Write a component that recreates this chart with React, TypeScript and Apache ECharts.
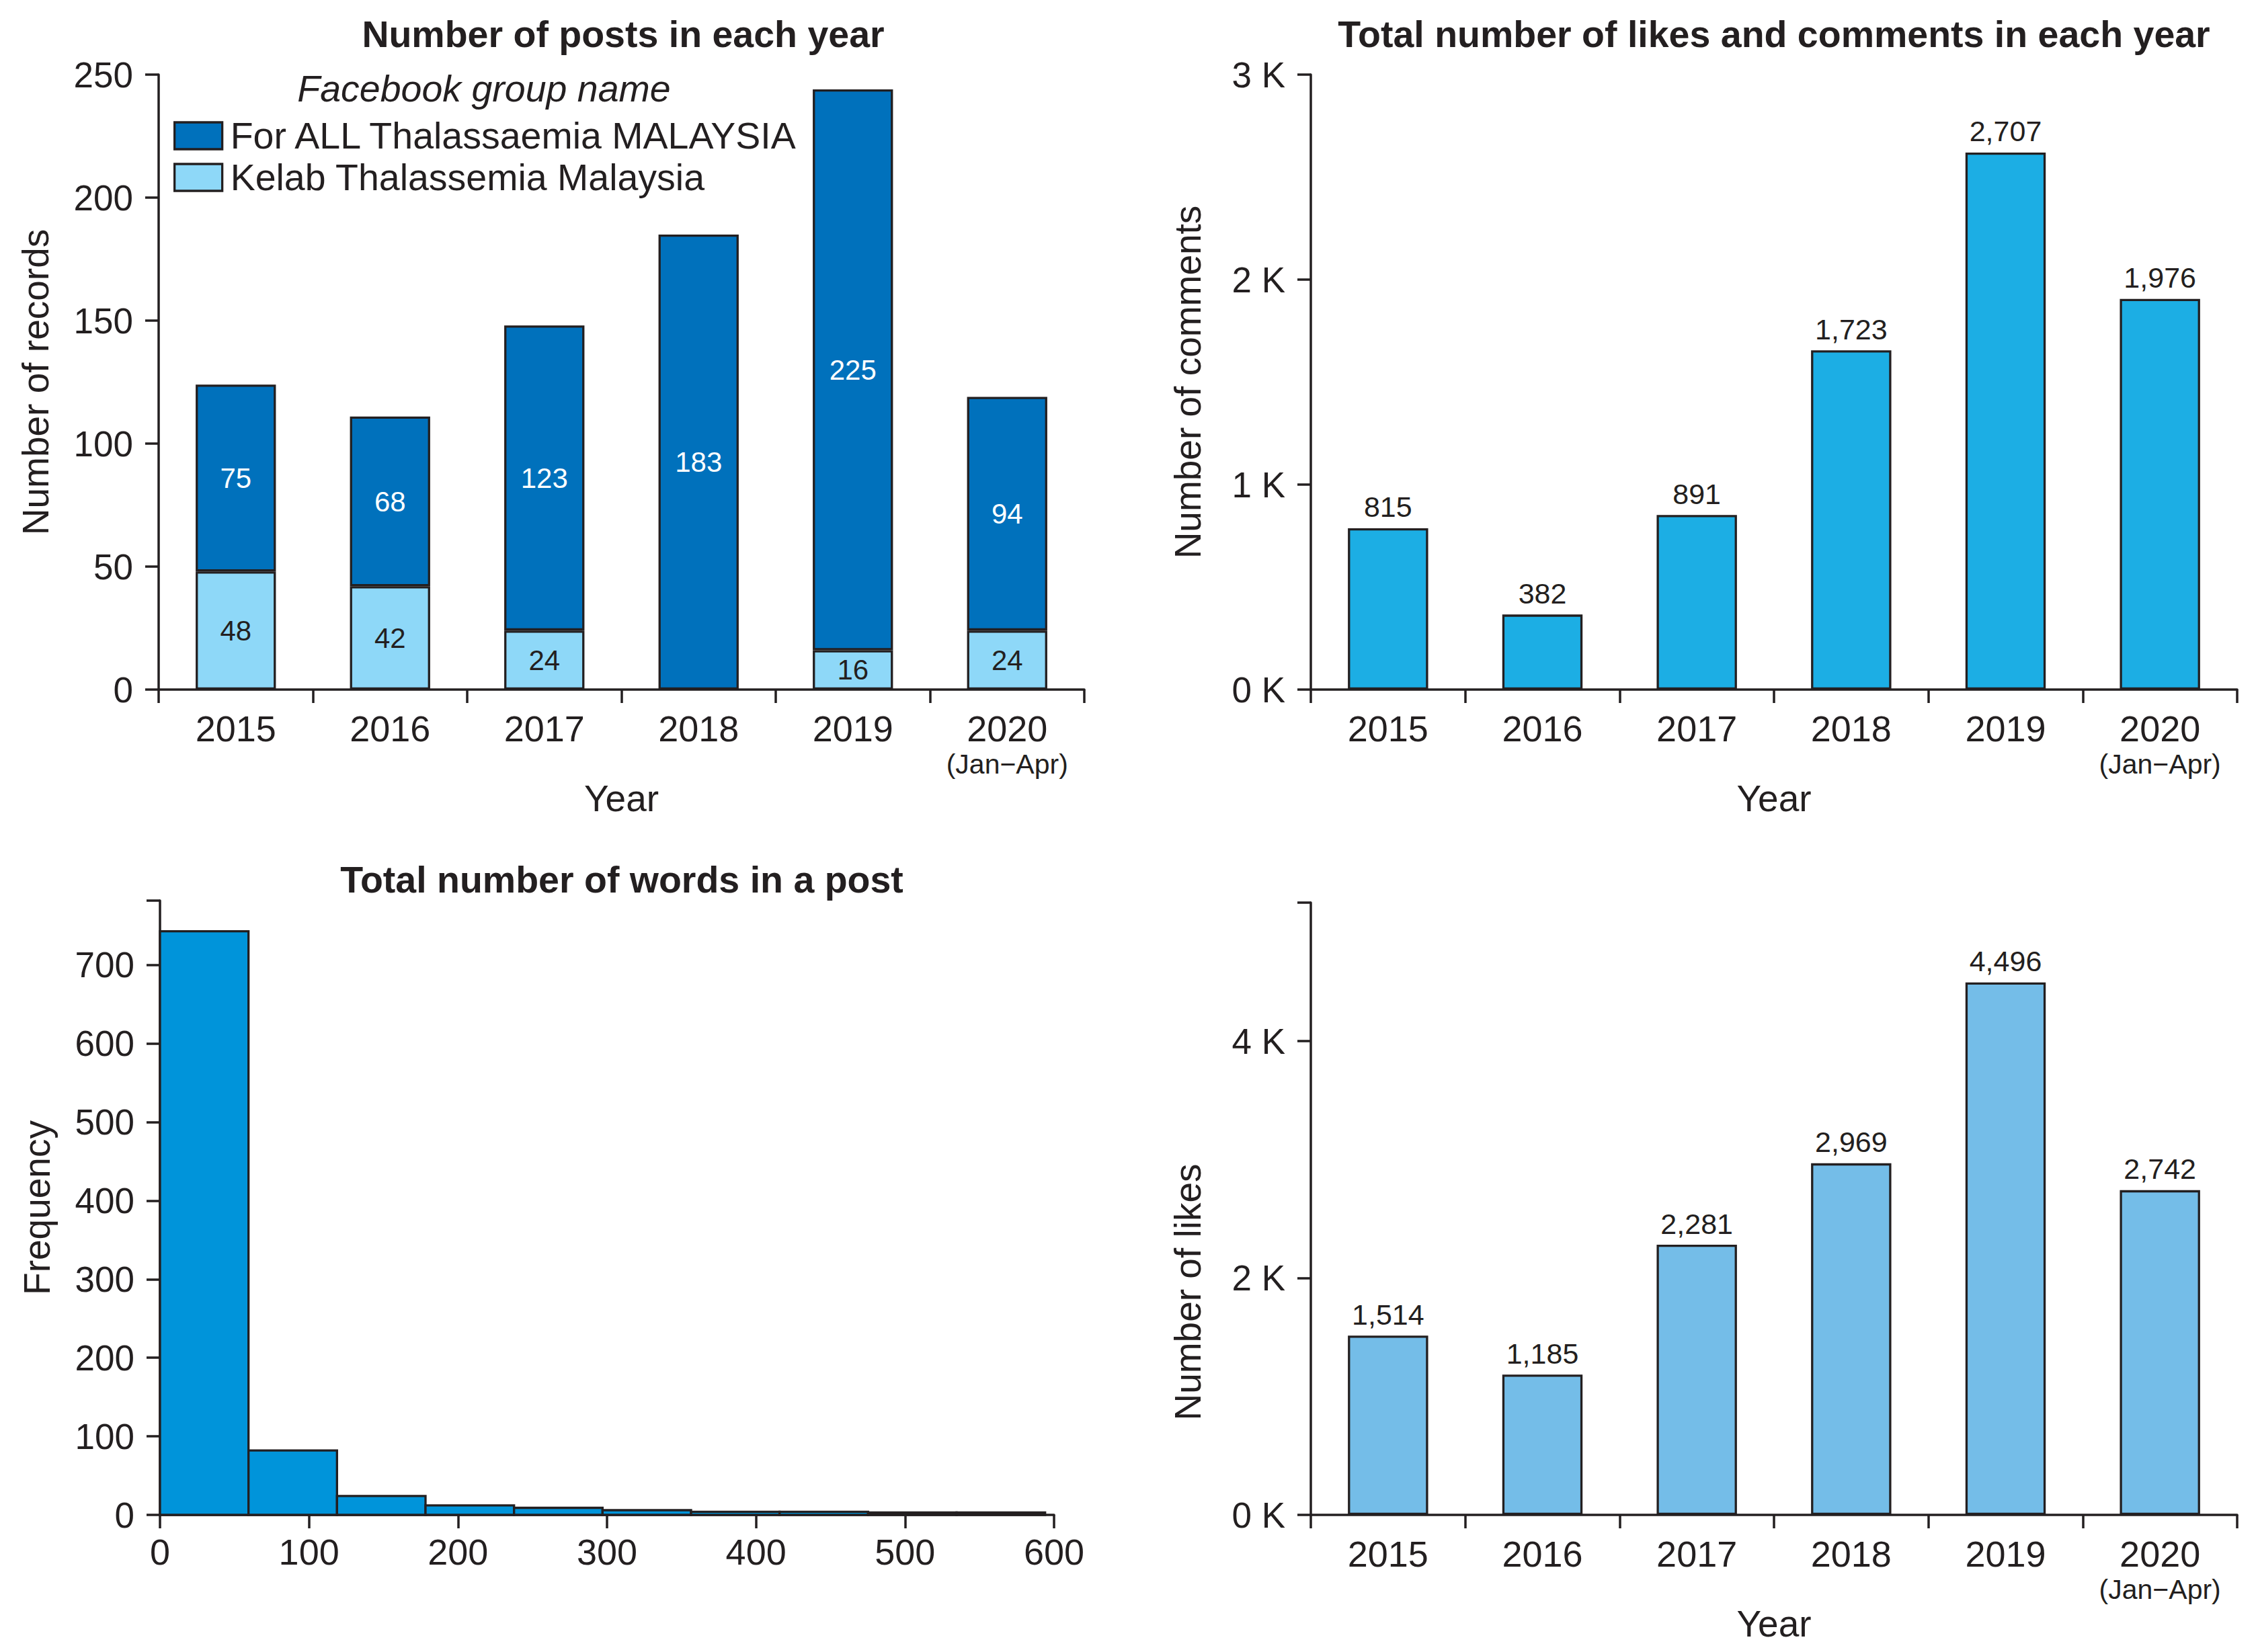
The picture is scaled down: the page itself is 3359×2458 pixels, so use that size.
import React, { useEffect, useRef } from 'react';
import * as echarts from 'echarts';

const years = ['2015', '2016', '2017', '2018', '2019', '2020'];
const yearNote = '(Jan\u2212Apr)';
// bar heights as drawn in the picture, and the numbers printed on them
const forAllBars = [76, 69, 124, 185, 228, 95];
const forAllLabels = [75, 68, 123, 183, 225, 94];
const kelabPosts = [48, 42, 24, null, 16, 24];
const commentBars = [787, 366, 852, 1655, 2620, 1906];
const commentLabels = [815, 382, 891, 1723, 2707, 1976];
const likes = [1514, 1185, 2281, 2969, 4496, 2742];
const histEdges = [0, 59.4, 118.8, 178.2, 237.6, 297, 356.4, 415.8, 475.2, 534.6, 594];
const histCounts = [743, 82, 24, 12, 9, 6, 4, 4, 3, 3];

const FONT = '"Liberation Sans", Arial, Helvetica, sans-serif';
const TXT = '#231f20';
const DARK = '#0071bc';
const LIGHT = '#8ed8f8';
const COMMENT = '#1caee4';
const LIKE = '#74bde8';
const HIST = '#0094da';
const SW = 3.3;

const axisLineStyle = { show: true, lineStyle: { color: TXT, width: 3.5 } };
const tickStyle = { show: true, length: 20, lineStyle: { color: TXT, width: 3.5 } };

function catAxis(gridIndex: number, withName: boolean) {
  return {
    type: 'category',
    gridIndex,
    data: years,
    boundaryGap: true,
    axisLine: axisLineStyle,
    axisTick: { ...tickStyle, alignWithLabel: false, interval: 0 },
    axisLabel: {
      interval: 0,
      margin: 28,
      color: TXT,
      fontFamily: FONT,
      fontSize: 54,
      lineHeight: 60,
      formatter: (v: string) => (v === '2020' ? '2020\n{n|' + yearNote + '}' : v),
      rich: { n: { fontSize: 41, lineHeight: 46, fontFamily: FONT, color: TXT } },
    },
    name: withName ? 'Year' : '',
    nameLocation: 'middle',
    nameGap: 104,
    nameTextStyle: { color: TXT, fontFamily: FONT, fontSize: 55 },
    splitLine: { show: false },
  };
}

function valAxis(gridIndex: number, name: string, max: number, interval: number, fmt: (v: number) => string, extra: any = {}) {
  return {
    type: 'value',
    gridIndex,
    min: 0,
    max,
    interval,
    axisLine: axisLineStyle,
    axisTick: tickStyle,
    axisLabel: { margin: 38, color: TXT, fontFamily: FONT, fontSize: 53, formatter: fmt, showMaxLabel: true },
    splitLine: { show: false },
    name,
    nameLocation: 'middle',
    nameGap: 156,
    nameTextStyle: { color: TXT, fontFamily: FONT, fontSize: 55, ...(extra.nameTextStyle || {}) },
  };
}

const titleStyle = { color: TXT, fontFamily: FONT, fontSize: 55.5, fontWeight: 'bold' };

export default function App() {
  const ref = useRef<HTMLDivElement>(null);
  useEffect(() => {
    if (!ref.current) return;
    const chart = echarts.init(ref.current, null, { renderer: 'svg' });
    const option: any = {
      animation: false,
      backgroundColor: '#ffffff',
      title: [
        { text: 'Number of posts in each year', left: 927, top: 23, textAlign: 'center', padding: 0, textStyle: titleStyle },
        { text: 'Total number of likes and comments in each year', left: 2639, top: 23, textAlign: 'center', padding: 0, textStyle: titleStyle },
        { text: 'Total number of words in a post', left: 925, top: 1281, textAlign: 'center', padding: 0, textStyle: titleStyle },
        {
          text: 'Facebook group name', left: 720, top: 104, textAlign: 'center', padding: 0,
          textStyle: { color: TXT, fontFamily: FONT, fontSize: 55.5, fontStyle: 'italic', fontWeight: 'normal' },
        },
      ],
      legend: {
        data: ['For ALL Thalassaemia MALAYSIA', 'Kelab Thalassemia Malaysia'],
        orient: 'vertical',
        left: 258,
        top: 174,
        padding: 0,
        itemGap: 6,
        itemWidth: 71,
        itemHeight: 40,
        icon: 'rect',
        selectedMode: false,
        textStyle: { color: TXT, fontFamily: FONT, fontSize: 55.5, lineHeight: 40, padding: [0, 0, 0, 7] },
        itemStyle: { borderColor: TXT, borderWidth: SW },
      },
      grid: [
        { left: 236, top: 111, width: 1377, height: 915 },
        { left: 1950, top: 111, width: 1378, height: 915 },
        { left: 238, top: 1340, width: 1330, height: 914 },
        { left: 1950, top: 1343, width: 1378, height: 911 },
      ],
      xAxis: [
        catAxis(0, true),
        catAxis(1, true),
        {
          type: 'value', gridIndex: 2, min: 0, max: 600, interval: 100,
          axisLine: axisLineStyle, axisTick: tickStyle,
          axisLabel: { margin: 28, color: TXT, fontFamily: FONT, fontSize: 54 },
          splitLine: { show: false },
        },
        catAxis(3, true),
      ],
      yAxis: [
        valAxis(0, 'Number of records', 250, 50, (v: number) => String(v)),
        valAxis(1, 'Number of comments', 3000, 1000, (v: number) => v / 1000 + ' K'),
        valAxis(2, 'Frequency', 782, 100, (v: number) => (v % 100 === 0 ? String(v) : '')),
        valAxis(3, 'Number of likes', 5170, 2000, (v: number) => (v % 2000 === 0 ? v / 1000 + ' K' : ''), {
          nameTextStyle: { padding: [0, 248, 0, 0] },
        }),
      ],
      series: [
        {
          name: 'Kelab Thalassemia Malaysia', type: 'bar', stack: 'posts', xAxisIndex: 0, yAxisIndex: 0,
          data: kelabPosts.map((v) => (v == null ? '-' : v)), barWidth: '52%',
          itemStyle: { color: LIGHT, borderColor: TXT, borderWidth: SW },
          label: { show: true, position: 'inside', color: TXT, fontFamily: FONT, fontSize: 42 },
        },
        {
          name: 'For ALL Thalassaemia MALAYSIA', type: 'bar', stack: 'posts', xAxisIndex: 0, yAxisIndex: 0,
          data: forAllBars, barWidth: '52%',
          itemStyle: { color: DARK, borderColor: TXT, borderWidth: SW },
          label: {
            show: true, position: 'inside', color: '#ffffff', fontFamily: FONT, fontSize: 42,
            formatter: (p: any) => String(forAllLabels[p.dataIndex]),
          },
        },
        {
          name: 'Comments', type: 'bar', xAxisIndex: 1, yAxisIndex: 1, data: commentBars, barWidth: '52%',
          itemStyle: { color: COMMENT, borderColor: TXT, borderWidth: SW },
          label: {
            show: true, position: 'top', distance: 10, color: TXT, fontFamily: FONT, fontSize: 43,
            formatter: (p: any) => commentLabels[p.dataIndex].toLocaleString('en-US'),
          },
        },
        {
          name: 'Words', type: 'custom', xAxisIndex: 2, yAxisIndex: 2,
          data: histCounts.map((c, i) => [histEdges[i], histEdges[i + 1], c]),
          encode: { x: [0, 1], y: 2 },
          renderItem: (params: any, api: any) => {
            const p0 = api.coord([api.value(0), api.value(2)]);
            const p1 = api.coord([api.value(1), 0]);
            return {
              type: 'rect',
              shape: { x: p0[0], y: p0[1], width: p1[0] - p0[0], height: p1[1] - p0[1] },
              style: { fill: HIST, stroke: TXT, lineWidth: SW },
            };
          },
        },
        {
          name: 'Likes', type: 'bar', xAxisIndex: 3, yAxisIndex: 3, data: likes, barWidth: '52%',
          itemStyle: { color: LIKE, borderColor: TXT, borderWidth: SW },
          label: {
            show: true, position: 'top', distance: 10, color: TXT, fontFamily: FONT, fontSize: 43,
            formatter: (p: any) => Number(p.value).toLocaleString('en-US'),
          },
        },
      ],
    };
    chart.setOption(option);
    return () => chart.dispose();
  }, []);
  return (
    <div
      ref={ref}
      style={{ position: 'fixed', left: 0, top: 0, width: 3359, height: 2458, background: '#fff' }}
    />
  );
}
